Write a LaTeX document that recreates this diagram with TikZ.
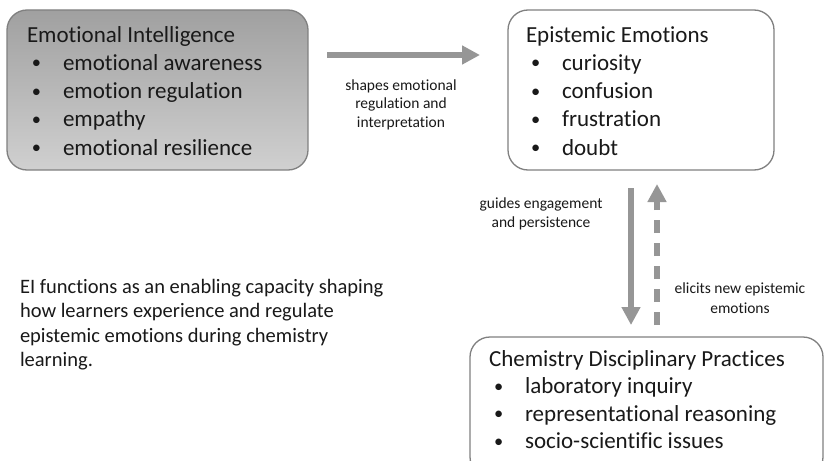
\documentclass[tikz,border=0pt]{standalone}
\usepackage{fontspec}
\setmainfont[Ligatures=NoCommon]{Carlito}
\usetikzlibrary{arrows.meta}
\definecolor{txt}{RGB}{25,25,25}
\definecolor{boxline}{RGB}{128,128,128}
\definecolor{arrowgray}{RGB}{150,150,150}
\definecolor{graytop}{RGB}{160,160,160}
\definecolor{graybot}{RGB}{208,208,208}
\newcommand{\bitem}[1]{\hspace*{5pt}\makebox[31pt][l]{\raisebox{1.5pt}{\scalebox{0.8}{•}}}#1}
\tikzset{
  box/.style={draw=boxline, line width=1.3pt, rounded corners=20pt, inner sep=0pt, outer sep=0pt, anchor=north west},
  txtnode/.style={inner sep=0pt, outer sep=0pt, text=txt},
  bigarrow/.style={draw=arrowgray, line width=6.5pt, -{Triangle[width=18pt,length=18pt]}},
}
\begin{document}
\begin{tikzpicture}[x=1pt,y=-1pt]
\clip (0,0) rectangle (826,460);
\fill[white] (0,0) rectangle (826,460);
% boxes
\node[box, top color=graytop, bottom color=graybot, minimum width=301pt, minimum height=160pt] (ei) at (7,10) {};
\node[box, fill=white, minimum width=266pt, minimum height=160pt] (ee) at (508,10) {};
\node[box, fill=white, minimum width=353pt, minimum height=140pt] (cdp) at (470,337) {};
% box texts
\node[txtnode, anchor=base west] (eitext) at (27,42) {\fontsize{23}{28.3}\selectfont
  \begin{tabular}[t]{@{}l@{}}Emotional Intelligence\\
  \bitem{emotional awareness}\\ \bitem{emotion regulation}\\ \bitem{empathy}\\ \bitem{emotional resilience}\end{tabular}};
\node[txtnode, anchor=base west] (eetext) at (526,42) {\fontsize{23}{28.3}\selectfont
  \begin{tabular}[t]{@{}l@{}}Epistemic Emotions\\
  \bitem{curiosity}\\ \bitem{confusion}\\ \bitem{frustration}\\ \bitem{doubt}\end{tabular}};
\node[txtnode, anchor=base west] (cdptext) at (489,366) {\fontsize{23}{27.5}\selectfont
  \begin{tabular}[t]{@{}l@{}}Chemistry Disciplinary Practices\\
  \bitem{laboratory inquiry}\\ \bitem{representational reasoning}\\ \bitem{socio-scientific issues}\end{tabular}};
% left text
\node[txtnode, anchor=base west] (note) at (20,293) {\fontsize{20.5}{24.5}\selectfont
  \begin{tabular}[t]{@{}l@{}}EI functions as an enabling capacity shaping\\
  how learners experience and regulate\\ epistemic emotions during chemistry\\ learning.\end{tabular}};
% arrows
\draw[bigarrow] ([xshift=19pt,yshift=35pt]ei.east) -- ([xshift=-28pt,yshift=35pt]ee.west);
\coordinate (mid) at (ee.south |- cdp.north);
\draw[bigarrow] ([xshift=-10pt,yshift=-18pt]ee.south) -- ([xshift=-10pt,yshift=12pt]mid);
\draw[bigarrow, dash pattern=on 13pt off 10pt] ([xshift=16pt,yshift=12pt]mid) -- ([xshift=16pt,yshift=-14pt]ee.south);
% arrow labels
\node[txtnode, anchor=base] (lab1) at (401,90) {\fontsize{15.5}{18.7}\selectfont
  \begin{tabular}[t]{@{}c@{}}shapes emotional\\ regulation and\\ interpretation\end{tabular}};
\node[txtnode, anchor=base] (lab2) at (541,208) {\fontsize{15.5}{19}\selectfont
  \begin{tabular}[t]{@{}c@{}}guides engagement\\ and persistence\end{tabular}};
\node[txtnode, anchor=base] (lab3) at (740,293) {\fontsize{15.5}{20}\selectfont
  \begin{tabular}[t]{@{}c@{}}elicits new epistemic\\ emotions\end{tabular}};
\end{tikzpicture}
\end{document}
